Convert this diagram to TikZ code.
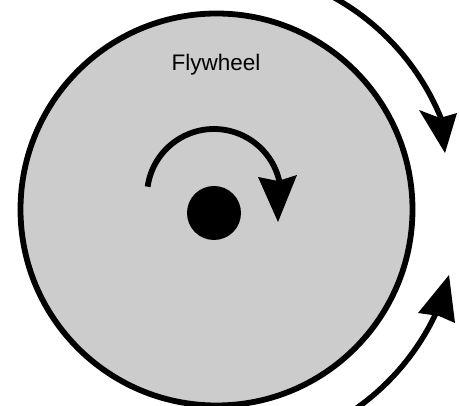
\documentclass[tikz,border=0pt]{standalone}
\usepackage{fontspec}
\setmainfont{Liberation Sans}
\definecolor{wheelgray}{HTML}{CCCCCC}
\begin{document}
\begin{tikzpicture}[x=1pt,y=-1pt,
  rim/.style={draw=black,line width=5.8pt,fill=wheelgray},
  shaft/.style={draw=black,line width=5.8pt},
  head/.style={fill=black}]
\useasboundingbox (0,0) rectangle (459,406);
\clip (0,0) rectangle (459,406);
% flywheel
\path[rim] (216.5,209.5) circle[radius=196];
\node[font=\fontsize{22.5}{27}\selectfont,anchor=base] (label) at (216,71) {Flywheel};
% hub
\fill (214,213) circle[radius=27];
% inner rotation arrow
\coordinate (ic) at (214,196);
\draw[shaft] ([shift={(188:67)}]ic) arc[start angle=188,end angle=347,radius=67];
\fill[head] (258,177) -- (278,222) -- (297,175) -- (278,181) -- cycle;
% outer top arrow
\coordinate (oc) at (216,210);
\draw[shaft,line width=5.5pt] ([shift={(-64:243)}]oc) arc[start angle=-64,end angle=-21,radius=243];
\fill[head] (419,110) -- (445,153) -- (457,113) -- (440,118) -- cycle;
% outer bottom arrow
\draw[shaft,line width=5.5pt] ([shift={(60:243)}]oc) arc[start angle=60,end angle=24,radius=243];
\fill[head] (418,313) -- (449,275) -- (455,323) -- (439,316) -- cycle;
\end{tikzpicture}
\end{document}
